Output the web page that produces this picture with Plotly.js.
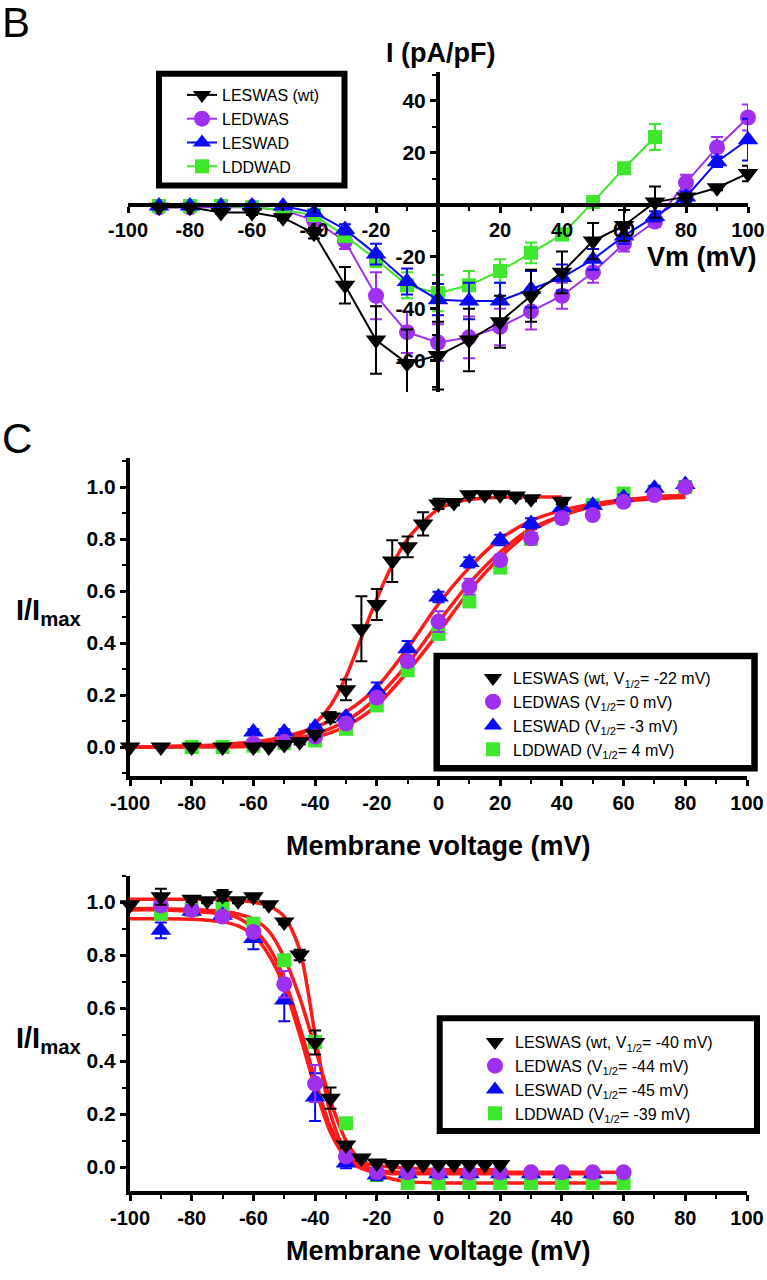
<!DOCTYPE html>
<html><head><meta charset="utf-8">
<script src="https://cdn.plot.ly/plotly-3.0.1.min.js"></script>
<style>html,body{margin:0;padding:0;background:#fff;}#chart{width:767px;height:1280px;}</style>
</head><body><div id="chart"></div>
<script>
// ================= Panel B : I-V relationship =================
const ivVm = [-90,-80,-70,-60,-50,-40,-30,-20,-10,0,10,20,30,40,50,60,70,80,90,100];
const ivLESWAS    = [-1,-1,-3,-3,-5,-11,-31,-52,-61,-58,-52,-45,-35,-26,-14,-8,1,3,6.5,12];
const ivLESWASErr = [0.5,0.5,0.5,1,1,2,7,13,13,13,12,10,10,8,7,6,6,1,1,3];
const ivLEDWAS    = [-1,-1,-1,-1,-2,-6,-14,-35,-49,-53,-51,-47,-41,-35,-26,-15,-6.5,8.5,22,33.5];
const ivLEDWASErr = [0.5,0.5,0.5,0.5,1,2,3,9,8,7,8,7,7,5,4,3,2,3,4,5];
const ivLESWAD    = [-0.5,-0.5,-0.5,-0.5,-0.5,-3,-9.5,-19,-29.5,-36.5,-37,-37,-32.5,-28,-21,-12,-4.5,3,16.5,25];
const ivLESWADErr = [0.5,0.5,0.5,0.5,0.5,1,2,4,5,6,7,7,7,5,4,3,2,2,2,8];
const ivVmLDDWAD  = [-90,-80,-70,-60,-50,-40,-30,-20,-10,0,10,20,30,40,50,60,70];
const ivLDDWAD    = [-0.5,-0.5,-0.5,-1,-2,-4,-12,-21,-31,-34,-31,-25.5,-18.5,-11.5,1,14,26];
const ivLDDWADErr = [0.5,0.5,0.5,0.5,0.5,1,2,3,5,7,5.5,4.5,4,2,1,1,5];
const ivXTicks = [-100,-80,-60,-40,-20,20,40,60,80,100];
const ivXMinor = [-90,-70,-50,-30,-10,10,30,50,70,90];
const ivYTicks = [-60,-40,-20,20,40];
const ivYMinor = [-70,-50,-30,-10,10,30,50];
const ivLegendNames = ['LESWAS (wt)','LEDWAS','LESWAD','LDDWAD'];

// ================= Panel C : activation =================
const actVmWt   = [-100,-90,-80,-70,-60,-55,-50,-45,-40,-35,-30,-25,-20,-15,-10,-5,0,5,10,15,20,25,30,40];
const actLESWAS = [0,0,0,0,0,0,0.01,0.02,0.05,0.115,0.22,0.455,0.548,0.715,0.77,0.858,0.935,0.94,0.97,0.97,0.97,0.965,0.955,0.945];
const actLESWASErr = [0,0,0,0,0,0,0.005,0.01,0.01,0.02,0.04,0.125,0.06,0.08,0.04,0.045,0.02,0.01,0.01,0.01,0.01,0.01,0.01,0.01];
const actVmMut  = [-60,-50,-40,-30,-20,-10,0,10,20,30,40,50,60,70,80];
const actLEDWAS = [0.013,0.02,0.04,0.09,0.19,0.33,0.482,0.617,0.719,0.803,0.88,0.892,0.943,0.969,1.0];
const actLEDWASErr = [0.01,0.01,0.01,0.01,0.02,0.02,0.04,0.03,0.02,0.02,0.02,0.01,0.01,0.01,0.01];
const actLESWAD = [0.058,0.058,0.077,0.115,0.218,0.378,0.577,0.71,0.796,0.86,0.92,0.93,0.96,0.995,1.01];
const actLESWADErr = [0.01,0.01,0.01,0.01,0.03,0.03,0.02,0.02,0.02,0.02,0.02,0.01,0.01,0.01,0.01];
const actVmLDDWAD = [-80,-70,-60,-50,-40,-30,-20,-10,0,10,20,30,40,50,60,70,80];
const actLDDWAD = [0,0,0.005,0.015,0.025,0.07,0.16,0.295,0.435,0.56,0.69,0.8,0.89,0.93,0.975,0.98,1.0];
const actLDDWADErr = [0.005,0.005,0.005,0.01,0.01,0.01,0.02,0.02,0.02,0.02,0.02,0.02,0.01,0.01,0.01,0.01,0.01];
// fitted (red) curves
const actFitVmWt  = [-100,-80,-70,-60,-55,-50,-45,-40,-35,-30,-25,-20,-15,-10,-5,0,5,10,15,20,25,30,40];
const actFitWt    = [0,0,0,0.003,0.01,0.02,0.045,0.09,0.16,0.27,0.42,0.57,0.7,0.8,0.865,0.915,0.94,0.952,0.958,0.96,0.962,0.962,0.962];
const actFitVmMut = [-100,-80,-70,-60,-50,-40,-30,-20,-10,0,10,20,30,40,50,60,70,80];
const actFitLEDWAS = [0,0.003,0.006,0.012,0.025,0.05,0.1,0.19,0.32,0.48,0.63,0.75,0.84,0.89,0.925,0.945,0.955,0.96];
const actFitLESWAD = [0,0.005,0.01,0.02,0.04,0.075,0.135,0.23,0.38,0.55,0.69,0.8,0.87,0.91,0.935,0.95,0.96,0.965];
const actFitLDDWAD = [0,0.002,0.004,0.008,0.018,0.037,0.08,0.16,0.29,0.44,0.6,0.73,0.83,0.89,0.93,0.95,0.962,0.968];
const actLegendNames = ['LESWAS (wt, V<sub>1/2</sub>= -22 mV)','LEDWAS (V<sub>1/2</sub>= 0 mV)','LESWAD (V<sub>1/2</sub>= -3 mV)','LDDWAD (V<sub>1/2</sub>= 4 mV)'];

// ================= Panel D : inactivation =================
const inaVmWt   = [-100,-90,-80,-75,-70,-65,-60,-55,-50,-45,-40,-35,-30,-25,-20,-15,-10,-5,0,5,10,15,20];
const inaLESWAS = [0.99,1.02,1.01,1.005,1.025,1.005,1.02,0.99,0.925,0.8,0.47,0.26,0.083,0.034,0.015,0.01,0.01,0.01,0.01,0.01,0.01,0.01,0.01];
const inaLESWASErr = [0,0.03,0.01,0.01,0.02,0.01,0.01,0.01,0.01,0.02,0.045,0.04,0.01,0.01,0,0,0,0,0,0,0,0,0];
const inaVmMut  = [-90,-80,-70,-60,-50,-40,-30,-20,-10,0,10,20,30,40,50,60];
const inaLEDWAS = [0.987,0.97,0.945,0.887,0.69,0.315,0.04,-0.02,-0.02,-0.02,-0.02,-0.02,-0.02,-0.02,-0.02,-0.02];
const inaLEDWASErr = [0.02,0.01,0.01,0.02,0.05,0.07,0.01,0,0,0,0,0,0,0,0,0];
const inaVmLESWAD = [-90,-80,-70,-60,-50,-40,-30,-20,-10,0,10,20,30,40,50];
const inaLESWAD = [0.893,0.965,0.95,0.862,0.63,0.264,0.015,-0.03,-0.025,-0.025,-0.025,-0.025,-0.025,-0.025,-0.025];
const inaLESWADErr = [0.03,0.01,0.01,0.04,0.08,0.09,0.02,0.02,0,0,0,0,0,0,0];
const inaLDDWAD = [0.956,0.97,0.98,0.918,0.78,0.472,0.165,-0.03,-0.06,-0.06,-0.06,-0.06,-0.06,-0.06,-0.06,-0.06];
const inaLDDWADErr = [0.01,0.01,0.01,0.01,0.02,0.02,0.02,0.01,0,0,0,0,0,0,0,0];
const inaFitVmWt = [-100,-90,-80,-70,-65,-60,-55,-50,-45,-40,-35,-30,-25,-20,-15,-10,0,10,20];
const inaFitWt   = [1.01,1.01,1.01,1.01,1.005,1.0,0.985,0.945,0.82,0.5,0.2,0.06,0.02,0.005,0,-0.005,-0.01,-0.01,-0.01];
const inaFitVm   = [-100,-90,-80,-70,-65,-60,-55,-50,-45,-40,-35,-30,-25,-20,-15,-10,0,10,20,30,40,50,60];
const inaFitLEDWAS = [0.97,0.97,0.965,0.955,0.94,0.9,0.83,0.71,0.53,0.33,0.15,0.05,0.005,-0.012,-0.018,-0.02,-0.02,-0.02,-0.02,-0.02,-0.02,-0.02,-0.02];
const inaFitLDDWAD = [0.975,0.975,0.972,0.965,0.955,0.935,0.89,0.79,0.64,0.45,0.25,0.1,0.02,-0.025,-0.045,-0.055,-0.06,-0.06,-0.06,-0.06,-0.06,-0.06,-0.06];
const inaFitVmLESWAD = [-100,-90,-80,-70,-65,-60,-55,-50,-45,-40,-35,-30,-25,-20,-15,-10,0,10,20,30,40,50];
const inaFitLESWAD = [0.937,0.937,0.935,0.925,0.91,0.875,0.8,0.68,0.5,0.3,0.13,0.035,-0.005,-0.02,-0.025,-0.025,-0.025,-0.025,-0.025,-0.025,-0.025,-0.025];
const inaLegendNames = ['LESWAS (wt, V<sub>1/2</sub>= -40 mV)','LEDWAS (V<sub>1/2</sub>= -44 mV)','LESWAD (V<sub>1/2</sub>= -45 mV)','LDDWAD (V<sub>1/2</sub>= -39 mV)'];

const boltzXTicks = [-100,-80,-60,-40,-20,0,20,40,60,80,100];
const boltzXMinor = [-90,-70,-50,-30,-10,10,30,50,70,90];
const boltzYTicks = [0,0.2,0.4,0.6,0.8,1.0];
const boltzYMinor = [-0.1,0.1,0.3,0.5,0.7,0.9,1.1];

// ================= styling / layout =================
const W = 767, H = 1280;
const px = v => v / W;
const py = v => 1 - v / H;
const FONT = 'Liberation Sans, Arial, Helvetica, sans-serif';
const BLACK = '#000000', PURPLE = '#a030f0', BLUE = '#0a0af5', GREEN = '#3ee62c', RED = '#ff1a1a';
const SZ = {tri:18, circ:16, sq:14};

function errBar(arr, color){ return {type:'data', array:arr, visible:true, color:color, thickness:2, width:6}; }
function ivTrace(name, x, y, err, color, symbol, size, rank){
  return {type:'scatter', mode:'lines+markers', name:name, x:x, y:y, xaxis:'x', yaxis:'y', legend:'legend', legendrank:rank,
    line:{color:color, width:2}, marker:{color:color, symbol:symbol, size:size, line:{width:0}},
    error_y:errBar(err, color), cliponaxis:false};
}
function ptTrace(name, x, y, err, color, symbol, size, rank, xa, ya, lg){
  return {type:'scatter', mode:'markers', name:name, x:x, y:y, xaxis:xa, yaxis:ya, legend:lg, legendrank:rank,
    marker:{color:color, symbol:symbol, size:size, line:{width:0}},
    error_y:errBar(err, color), cliponaxis:false};
}
function fitTrace(x, y, xa, ya){
  return {type:'scatter', mode:'lines', x:x, y:y, xaxis:xa, yaxis:ya, showlegend:false, hoverinfo:'skip',
    line:{color:RED, width:3.5, shape:'spline', smoothing:0.8}, cliponaxis:false};
}

const traces = [
  // panel B
  ivTrace(ivLegendNames[1], ivVm, ivLEDWAS, ivLEDWASErr, PURPLE, 'circle', SZ.circ, 2),
  ivTrace(ivLegendNames[3], ivVmLDDWAD, ivLDDWAD, ivLDDWADErr, GREEN, 'square', SZ.sq, 4),
  ivTrace(ivLegendNames[2], ivVm, ivLESWAD, ivLESWADErr, BLUE, 'triangle-up', SZ.tri, 3),
  ivTrace(ivLegendNames[0], ivVm, ivLESWAS, ivLESWASErr, BLACK, 'triangle-down', SZ.tri, 1),
  // panel C fits
  fitTrace(actFitVmWt, actFitWt, 'x2', 'y2'),
  fitTrace(actFitVmMut, actFitLEDWAS, 'x2', 'y2'),
  fitTrace(actFitVmMut, actFitLESWAD, 'x2', 'y2'),
  fitTrace(actFitVmMut, actFitLDDWAD, 'x2', 'y2'),
  // panel C points
  ptTrace(actLegendNames[3], actVmLDDWAD, actLDDWAD, actLDDWADErr, GREEN, 'square', SZ.sq, 4, 'x2', 'y2', 'legend2'),
  ptTrace(actLegendNames[2], actVmMut, actLESWAD, actLESWADErr, BLUE, 'triangle-up', SZ.tri, 3, 'x2', 'y2', 'legend2'),
  ptTrace(actLegendNames[1], actVmMut, actLEDWAS, actLEDWASErr, PURPLE, 'circle', SZ.circ, 2, 'x2', 'y2', 'legend2'),
  ptTrace(actLegendNames[0], actVmWt, actLESWAS, actLESWASErr, BLACK, 'triangle-down', SZ.tri, 1, 'x2', 'y2', 'legend2'),
  // panel D fits
  fitTrace(inaFitVmWt, inaFitWt, 'x3', 'y3'),
  fitTrace(inaFitVm, inaFitLEDWAS, 'x3', 'y3'),
  fitTrace(inaFitVmLESWAD, inaFitLESWAD, 'x3', 'y3'),
  fitTrace(inaFitVm, inaFitLDDWAD, 'x3', 'y3'),
  // panel D points
  ptTrace(inaLegendNames[3], inaVmMut, inaLDDWAD, inaLDDWADErr, GREEN, 'square', SZ.sq, 4, 'x3', 'y3', 'legend3'),
  ptTrace(inaLegendNames[2], inaVmLESWAD, inaLESWAD, inaLESWADErr, BLUE, 'triangle-up', SZ.tri, 3, 'x3', 'y3', 'legend3'),
  ptTrace(inaLegendNames[1], inaVmMut, inaLEDWAS, inaLEDWASErr, PURPLE, 'circle', SZ.circ, 2, 'x3', 'y3', 'legend3'),
  ptTrace(inaLegendNames[0], inaVmWt, inaLESWAS, inaLESWASErr, BLACK, 'triangle-down', SZ.tri, 1, 'x3', 'y3', 'legend3'),
];

const tickFontX = {family:FONT, size:20, weight:'bold', color:BLACK};
const tickFontY = {family:FONT, size:21, weight:'bold', color:BLACK};
function baseAxis(extra){
  return Object.assign({showline:true, linewidth:4, linecolor:BLACK, ticks:'outside', ticklen:6, tickwidth:3, tickcolor:BLACK,
    tickmode:'array', showgrid:false, zeroline:false, fixedrange:true, automargin:false}, extra);
}
function minorOf(vals){ return {tickmode:'array', tickvals:vals, ticks:'outside', ticklen:4, tickwidth:2, tickcolor:BLACK, showgrid:false}; }

// Panel B geometry
const bXDom = [px(128), px(748)], bYDom = [py(392), py(72)];
const bXRange = [-100, 100], bYRange = [-72, 51];
const bXAxisPos = bYDom[0] + (0 - bYRange[0]) / (bYRange[1] - bYRange[0]) * (bYDom[1] - bYDom[0]);
const bYAxisPos = bXDom[0] + (0 - bXRange[0]) / (bXRange[1] - bXRange[0]) * (bXDom[1] - bXDom[0]);

const fmt1 = v => v.toFixed(1);
const legendFont = {family:FONT, size:16, color:BLACK};
const layout = {
  width:W, height:H, margin:{l:0,r:0,t:0,b:0}, paper_bgcolor:'#fff', plot_bgcolor:'rgba(0,0,0,0)',
  font:{family:FONT, color:BLACK}, showlegend:true,
  xaxis: baseAxis({domain:bXDom, range:bXRange, anchor:'free', position:bXAxisPos,
    tickvals:ivXTicks, ticktext:ivXTicks.map(String), tickfont:tickFontX, minor:minorOf(ivXMinor)}),
  yaxis: baseAxis({domain:bYDom, range:bYRange, anchor:'free', position:bYAxisPos,
    tickvals:ivYTicks, ticktext:ivYTicks.map(String), tickfont:tickFontY, minor:minorOf(ivYMinor)}),
  xaxis2: baseAxis({domain:[px(130), px(747)], range:[-100,100], anchor:'y2',
    tickvals:boltzXTicks, ticktext:boltzXTicks.map(String), tickfont:tickFontX, minor:minorOf(boltzXMinor)}),
  yaxis2: baseAxis({domain:[py(775.6), py(458.4)], range:[-0.11,1.11], anchor:'x2',
    tickvals:boltzYTicks, ticktext:boltzYTicks.map(fmt1), tickfont:tickFontY, minor:minorOf(boltzYMinor)}),
  xaxis3: baseAxis({domain:[px(130), px(747)], range:[-100,100], anchor:'y3',
    tickvals:boltzXTicks, ticktext:boltzXTicks.map(String), tickfont:tickFontX, minor:minorOf(boltzXMinor)}),
  yaxis3: baseAxis({domain:[py(1190.9), py(875.5)], range:[-0.09,1.1], anchor:'x3',
    tickvals:boltzYTicks, ticktext:boltzYTicks.map(fmt1), tickfont:tickFontY, minor:minorOf(boltzYMinor)}),
  legend:  {x:px(182), y:py(78), xanchor:'left', yanchor:'top', bgcolor:'rgba(0,0,0,0)', borderwidth:0, font:legendFont},
  legend2: {x:px(473), y:py(661), xanchor:'left', yanchor:'top', bgcolor:'rgba(0,0,0,0)', borderwidth:0, font:legendFont},
  legend3: {x:px(475), y:py(1025), xanchor:'left', yanchor:'top', bgcolor:'rgba(0,0,0,0)', borderwidth:0, font:legendFont},
  shapes: [
    {type:'rect', xref:'paper', yref:'paper', x0:px(159), x1:px(344.5), y0:py(185.5), y1:py(73.7), line:{color:BLACK, width:6}},
    {type:'rect', xref:'paper', yref:'paper', x0:px(436.7), x1:px(754.5), y0:py(768.3), y1:py(656), line:{color:BLACK, width:6.5}},
    {type:'rect', xref:'paper', yref:'paper', x0:px(439.7), x1:px(757), y0:py(1131), y1:py(1018.3), line:{color:BLACK, width:6}}
  ],
  annotations: [
    {text:'B', x:px(0), y:py(22), xref:'paper', yref:'paper', xanchor:'left', yanchor:'middle', showarrow:false, font:{family:FONT, size:42, color:BLACK}},
    {text:'C', x:px(0), y:py(438), xref:'paper', yref:'paper', xanchor:'left', yanchor:'middle', showarrow:false, font:{family:FONT, size:42, color:BLACK}},
    {text:'I (pA/pF)', x:px(440), y:py(53), xref:'paper', yref:'paper', xanchor:'center', yanchor:'middle', showarrow:false, font:{family:FONT, size:27, weight:'bold', color:BLACK}},
    {text:'Vm (mV)', x:px(702), y:py(257), xref:'paper', yref:'paper', xanchor:'center', yanchor:'middle', showarrow:false, font:{family:FONT, size:27, weight:'bold', color:BLACK}},
    {text:'I/I<sub>max</sub>', x:px(14), y:py(612), xref:'paper', yref:'paper', xanchor:'left', yanchor:'middle', showarrow:false, font:{family:FONT, size:29, weight:'bold', color:BLACK}},
    {text:'Membrane voltage (mV)', x:px(438), y:py(846), xref:'paper', yref:'paper', xanchor:'center', yanchor:'middle', showarrow:false, font:{family:FONT, size:27, weight:'bold', color:BLACK}},
    {text:'I/I<sub>max</sub>', x:px(14), y:py(1040), xref:'paper', yref:'paper', xanchor:'left', yanchor:'middle', showarrow:false, font:{family:FONT, size:29, weight:'bold', color:BLACK}},
    {text:'Membrane voltage (mV)', x:px(438), y:py(1251), xref:'paper', yref:'paper', xanchor:'center', yanchor:'middle', showarrow:false, font:{family:FONT, size:27, weight:'bold', color:BLACK}}
  ]
};

Plotly.newPlot('chart', traces, layout, {staticPlot:true, displayModeBar:false});
</script>
</body></html>
